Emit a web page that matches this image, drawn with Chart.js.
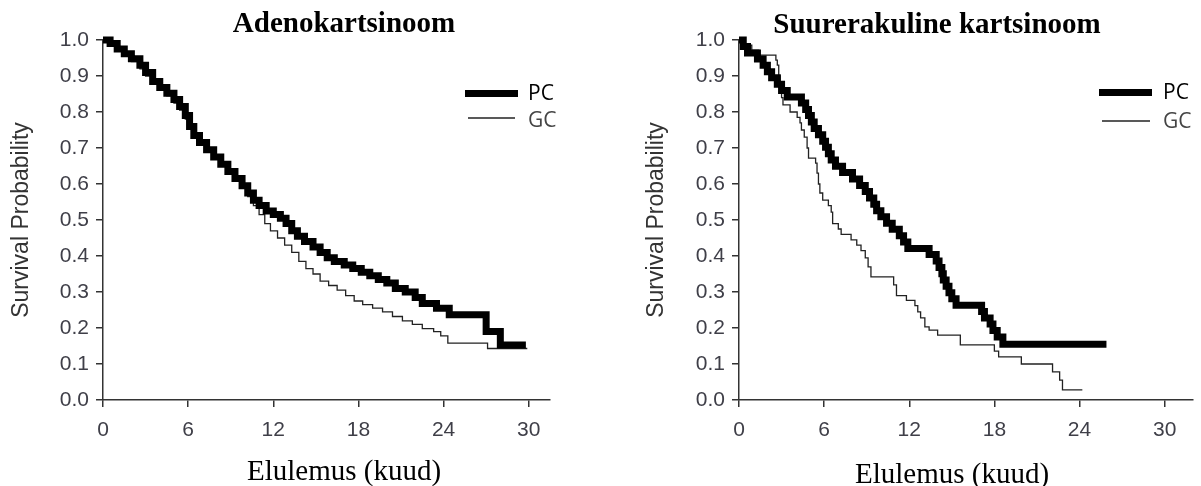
<!DOCTYPE html>
<html>
<head>
<meta charset="utf-8">
<script src="https://cdn.jsdelivr.net/npm/chart.js@4.4.1/dist/chart.umd.min.js"></script>
<style>
    body { margin:0; background:#fff; }
    #wrap { position:relative; width:1201px; height:486px; }
    #wrap canvas { position:absolute; top:0; }
</style>
</head>
<body>
<div id="wrap">
    <canvas id="chartAdeno" width="600" height="486" style="left:0"></canvas>
    <canvas id="chartSuur" width="601" height="486" style="left:600px"></canvas>
</div>
<script>
let xTickValues = [0, 6, 12, 18, 24, 30];
let yTickValues = [0, 0.1, 0.2, 0.3, 0.4, 0.5, 0.6, 0.7, 0.8, 0.9, 1.0];
let seriesNames = ['PC', 'GC'];

// Adenokartsinoom
let adenoPcMonths = [0, 0.5, 1.0, 1.5, 2.0, 2.6, 3.0, 3.5, 4.0, 4.5, 5.0, 5.4, 5.8, 6.1, 6.4, 6.8, 7.3, 7.8, 8.3, 8.8, 9.3, 9.8, 10.2, 10.6, 11.0, 11.5, 12.0, 12.5, 12.9, 13.3, 13.7, 14.2, 14.8, 15.3, 15.8, 16.3, 17.0, 17.6, 18.2, 18.8, 19.4, 20.0, 20.6, 21.3, 22.0, 22.5, 23.5, 24.4, 27.0, 28.0, 29.8];
let adenoPcSurv = [1.0, 0.99, 0.975, 0.962, 0.948, 0.93, 0.91, 0.885, 0.868, 0.852, 0.835, 0.815, 0.79, 0.76, 0.735, 0.715, 0.695, 0.675, 0.655, 0.635, 0.615, 0.595, 0.575, 0.555, 0.54, 0.525, 0.515, 0.505, 0.49, 0.47, 0.455, 0.44, 0.425, 0.41, 0.395, 0.385, 0.375, 0.365, 0.355, 0.345, 0.335, 0.325, 0.31, 0.3, 0.285, 0.268, 0.255, 0.237, 0.19, 0.153, 0.153];
let adenoGcMonths = [0, 0.5, 1.0, 1.5, 2.0, 2.6, 3.0, 3.5, 4.0, 4.5, 5.0, 5.4, 5.8, 6.1, 6.4, 6.8, 7.3, 7.8, 8.3, 8.8, 9.3, 9.8, 10.2, 10.6, 11.0, 11.4, 11.8, 12.3, 12.8, 13.3, 13.8, 14.3, 14.8, 15.3, 15.9, 16.5, 17.1, 17.7, 18.3, 19.0, 19.7, 20.4, 21.1, 21.8, 22.5, 23.3, 23.8, 24.3, 27.1, 29.9];
let adenoGcSurv = [1.0, 0.988, 0.972, 0.955, 0.94, 0.92, 0.9, 0.878, 0.86, 0.845, 0.825, 0.805, 0.78, 0.755, 0.73, 0.71, 0.69, 0.67, 0.65, 0.63, 0.61, 0.59, 0.565, 0.54, 0.515, 0.49, 0.47, 0.45, 0.43, 0.41, 0.385, 0.365, 0.35, 0.33, 0.318, 0.305, 0.29, 0.275, 0.265, 0.255, 0.245, 0.232, 0.22, 0.21, 0.198, 0.19, 0.178, 0.158, 0.143, 0.143];

// Suurerakuline kartsinoom
let suurPcMonths = [0, 0.3, 0.6, 1.3, 1.7, 2.0, 2.3, 2.7, 3.0, 3.4, 4.4, 4.7, 4.9, 5.1, 5.3, 5.6, 5.9, 6.1, 6.3, 6.5, 6.8, 7.3, 8.0, 8.5, 8.9, 9.2, 9.5, 9.7, 10.0, 10.4, 10.8, 11.3, 11.6, 11.9, 13.4, 13.9, 14.1, 14.3, 14.4, 14.6, 14.8, 15.0, 15.3, 17.1, 17.3, 17.7, 17.9, 18.2, 18.6, 25.9];
let suurPcSurv = [1.0, 0.982, 0.964, 0.947, 0.93, 0.912, 0.895, 0.877, 0.86, 0.842, 0.825, 0.807, 0.79, 0.772, 0.754, 0.737, 0.719, 0.702, 0.684, 0.667, 0.649, 0.632, 0.614, 0.596, 0.579, 0.561, 0.544, 0.526, 0.509, 0.491, 0.474, 0.456, 0.439, 0.421, 0.404, 0.386, 0.368, 0.351, 0.333, 0.316, 0.298, 0.281, 0.263, 0.246, 0.228, 0.211, 0.193, 0.175, 0.155, 0.155];
let suurGcMonths = [0, 0.4, 0.9, 1.4, 2.6, 2.7, 2.8, 2.9, 3.0, 3.1, 3.6, 4.1, 4.3, 4.4, 4.6, 4.8, 4.9, 5.4, 5.5, 5.6, 5.7, 5.9, 6.3, 6.5, 6.6, 7.0, 7.2, 7.9, 8.3, 8.6, 8.9, 9.1, 9.3, 10.9, 11.1, 11.8, 12.4, 12.6, 12.8, 13.1, 13.4, 14.0, 15.6, 18.0, 18.3, 19.9, 22.1, 22.6, 22.8, 24.2];
let suurGcSurv = [1.0, 0.986, 0.972, 0.958, 0.944, 0.93, 0.9, 0.87, 0.84, 0.82, 0.8, 0.785, 0.77, 0.75, 0.73, 0.7, 0.672, 0.658, 0.63, 0.6, 0.575, 0.555, 0.54, 0.522, 0.49, 0.475, 0.46, 0.445, 0.43, 0.415, 0.395, 0.37, 0.342, 0.32, 0.29, 0.277, 0.262, 0.245, 0.228, 0.203, 0.194, 0.18, 0.153, 0.136, 0.12, 0.1, 0.078, 0.055, 0.028, 0.028];

function toPoints(months, surv){
    return months.map(function(m, i){ return {x: m, y: surv[i]}; });
}

// titles, x title and legend drawn at fixed spots
let kmDecor = {
    id: 'kmDecor',
    afterDraw: function(chart, args, opts){
        let ctx = chart.ctx;
        ctx.save();
        ctx.textBaseline = 'alphabetic';
        ctx.textAlign = 'center';
        ctx.fillStyle = '#000';
        ctx.font = 'bold 29px "Liberation Serif", "Times New Roman", serif';
        ctx.fillText(opts.title, opts.titleX, opts.titleY);
        ctx.font = '29px "Liberation Serif", "Times New Roman", serif';
        ctx.fillText(opts.xTitle, opts.xTitleX, opts.xTitleY);

        ctx.textAlign = 'left';
        ctx.font = '21px "Open Sans", "Noto Sans", sans-serif';
        chart.data.datasets.forEach(function(ds, i){
            let lg = opts.legend[i];
            ctx.beginPath();
            ctx.lineWidth = ds.borderWidth;
            ctx.strokeStyle = ds.borderColor;
            ctx.moveTo(lg.x1, lg.y);
            ctx.lineTo(lg.x2, lg.y);
            ctx.stroke();
            ctx.fillStyle = lg.color;
            ctx.fillText(ds.label, lg.textX, lg.textY);
        });
        ctx.restore();
    }
};

function makeChart(canvasId, pcData, gcData, xMax, pad, yWidth, decor){
    let ctx = document.getElementById(canvasId).getContext('2d');
    return new Chart(ctx, {
        type: 'line',
        data: {
            datasets: [
                { label: seriesNames[0], data: pcData, stepped: true, borderColor: '#000', borderWidth: 7, pointRadius: 0, fill: false, clip: 10 },
                { label: seriesNames[1], data: gcData, stepped: true, borderColor: '#222', borderWidth: 1.3, pointRadius: 0, fill: false, clip: 10 }
            ]
        },
        options: {
            responsive: false,
            animation: false,
            layout: { padding: pad },
            plugins: {
                legend: { display: false },
                tooltip: { enabled: false },
                kmDecor: decor
            },
            scales: {
                x: {
                    type: 'linear',
                    min: 0,
                    max: xMax,
                    afterBuildTicks: function(scale){ scale.ticks = xTickValues.map(function(v){ return {value: v}; }); },
                    afterFit: function(scale){ scale.height = 86; },
                    grid: { drawOnChartArea: false, drawTicks: true, tickLength: 7, color: '#333', lineWidth: 1.5 },
                    border: { display: true, color: '#333', width: 1.5 },
                    ticks: { padding: 11, color: '#3f3f48', font: { family: '"Liberation Sans", Arial, sans-serif', size: 21 } }
                },
                y: {
                    type: 'linear',
                    min: 0,
                    max: 1,
                    afterBuildTicks: function(scale){ scale.ticks = yTickValues.map(function(v){ return {value: v}; }); },
                    afterFit: function(scale){ scale.width = yWidth; },
                    grid: { drawOnChartArea: false, drawTicks: true, tickLength: 7, color: '#333', lineWidth: 1.5 },
                    border: { display: true, color: '#333', width: 1.5 },
                    ticks: {
                        padding: 7,
                        color: '#3f3f48',
                        font: { family: '"Liberation Sans", Arial, sans-serif', size: 21 },
                        callback: function(v){ return Number(v).toFixed(1); }
                    },
                    title: {
                        display: true,
                        text: 'Survival Probability',
                        color: '#333',
                        padding: { top: 8, bottom: 0 },
                        font: { family: '"Liberation Sans", Arial, sans-serif', size: 23 }
                    }
                }
            }
        },
        plugins: [kmDecor]
    });
}

makeChart('chartAdeno', toPoints(adenoPcMonths, adenoPcSurv), toPoints(adenoGcMonths, adenoGcSurv), 31.5,
    { top: 40, right: 50, left: 0, bottom: 0 }, 103,
    {
        title: 'Adenokartsinoom', titleX: 344, titleY: 32,
        xTitle: 'Elulemus (kuud)', xTitleX: 344, xTitleY: 480,
        legend: [
            { x1: 465, x2: 518, y: 93.5, textX: 528, textY: 100, color: '#000' },
            { x1: 468, x2: 515, y: 118, textX: 528, textY: 127, color: '#444' }
        ]
    });

makeChart('chartSuur', toPoints(suurPcMonths, suurPcSurv), toPoints(suurGcMonths, suurGcSurv), 32,
    { top: 40, right: 8, left: 35, bottom: 0 }, 104,
    {
        title: 'Suurerakuline kartsinoom', titleX: 337, titleY: 33,
        xTitle: 'Elulemus (kuud)', xTitleX: 352, xTitleY: 483,
        legend: [
            { x1: 499, x2: 552, y: 92.5, textX: 563, textY: 99, color: '#000' },
            { x1: 502, x2: 550, y: 121, textX: 563, textY: 128, color: '#444' }
        ]
    });
</script>
</body>
</html>
